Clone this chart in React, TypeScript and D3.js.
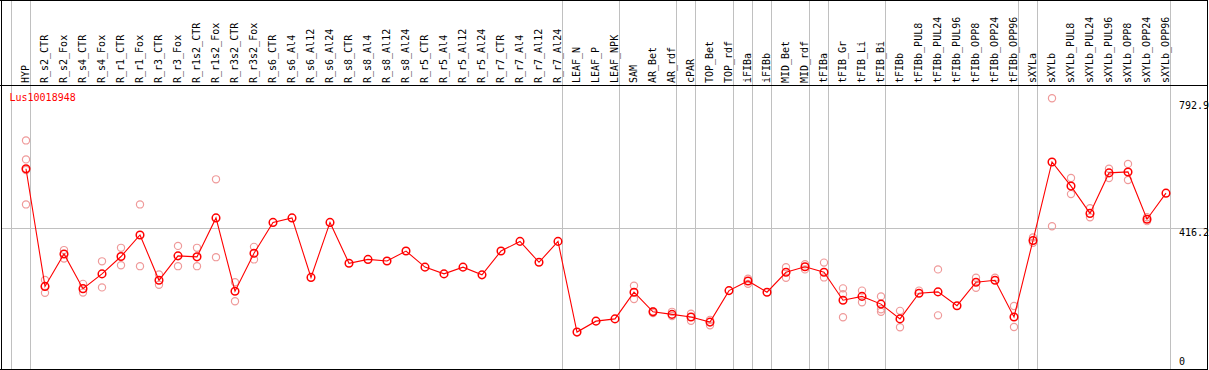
import React from "react";
import * as d3 from "d3";

const title = "Lus10018948";

const samples = [
  "HYP", "R_s2_CTR", "R_s2_Fox", "R_s4_CTR", "R_s4_Fox", "R_r1_CTR", "R_r1_Fox", "R_r3_CTR", "R_r3_Fox",
  "R_r1s2_CTR", "R_r1s2_Fox", "R_r3s2_CTR", "R_r3s2_Fox", "R_s6_CTR", "R_s6_Al4", "R_s6_Al12", "R_s6_Al24",
  "R_s8_CTR", "R_s8_Al4", "R_s8_Al12", "R_s8_Al24", "R_r5_CTR", "R_r5_Al4", "R_r5_Al12", "R_r5_Al24",
  "R_r7_CTR", "R_r7_Al4", "R_r7_Al12", "R_r7_Al24", "LEAF_N", "LEAF_P", "LEAF_NPK", "SAM", "AR_Bet", "AR_rdf",
  "cPAR", "TOP_Bet", "TOP_rdf", "iFIBa", "iFIBb", "MID_Bet", "MID_rdf", "tFIBa", "tFIB_Gr", "tFIB_Li", "tFIB_Bi",
  "tFIBb", "tFIBb_PUL8", "tFIBb_PUL24", "tFIBb_PUL96", "tFIBb_OPP8", "tFIBb_OPP24", "tFIBb_OPP96", "sXYLa",
  "sXYLb", "sXYLb_PUL8", "sXYLb_PUL24", "sXYLb_PUL96", "sXYLb_OPP8", "sXYLb_OPP24", "sXYLb_OPP96",
];

const means = [
  601, 235, 336, 228, 274, 328, 395, 254, 330, 327, 448, 220, 338, 434, 448, 263, 434,
  307, 319, 314, 345, 295, 274, 295, 271, 345, 375, 310, 375, 93, 127, 134, 217, 156, 148,
  140, 124, 222, 252, 217, 279, 296, 279, 192, 204, 180, 134, 214, 218, 175, 248, 254, 140,
  378, 622, 547, 462, 588, 591, 444, 525,
];

const replicates: number[][] = [
  [689, 630, 597, 490], [255, 236, 215], [348, 322], [243, 216], [313, 232], [355, 301], [490, 298],
  [272, 240], [361, 298], [355, 298], [568, 326], [248, 189], [358, 319], [], [], [], [],
  [], [], [], [], [], [], [], [], [], [], [], [], [], [], [], [237, 196], [158, 152], [156, 143],
  [150, 128], [131, 114], [], [259, 243], [], [295, 262], [304, 288], [309, 263], [229, 211, 139],
  [222, 186], [204, 164, 156], [159, 108], [222], [288, 145], [], [262, 231], [262], [174, 109],
  [387, 371], [820, 422], [572, 522], [478, 450], [601, 572], [616, 566], [450, 438], [],
];

// index of the last sample in each group (-1 = left edge)
const groupEnds = [-1, 0, 28, 31, 34, 35, 37, 38, 39, 41, 42, 45, 52, 53, 60];

const yTicks = [0, 416.2, 792.9];
const yTickLabels = ["0", "416.2", "792.9"];

const W = 1209;
const H = 370;
const FONT = "'DejaVu Sans Mono', monospace";

export default function App() {
  const x = d3.scaleLinear().domain([0, samples.length - 1]).range([26, 1166]);
  const y = d3.scaleLinear().domain([0, 792.9]).range([362, 107]);
  const line = d3
    .line<number>()
    .x((_, i) => x(i))
    .y((d) => y(d));

  const left = 1.5, right = 1207.5, top = 0.5, bottom = 369.5, header = 85.5;
  const labelDy = [-1, 4, -2];

  return (
    <svg
      width={W}
      height={H}
      style={{ position: "absolute", left: 0, top: 0, background: "#fff" }}
      fontFamily={FONT}
      fontSize={10}
    >
      <rect x={0} y={0} width={W} height={H} fill="#fff" />
      {groupEnds.map((g) => (
        <line
          key={"g" + g}
          x1={Math.round(x(g)) + 4.5}
          x2={Math.round(x(g)) + 4.5}
          y1={0}
          y2={H}
          stroke="#c0c0c0"
          strokeWidth={1}
          shapeRendering="crispEdges"
        />
      ))}
      <line
        x1={left}
        x2={right}
        y1={Math.round(y(yTicks[1])) + 0.5}
        y2={Math.round(y(yTicks[1])) + 0.5}
        stroke="#c0c0c0"
        shapeRendering="crispEdges"
      />
      {samples.map((s, i) => (
        <text
          key={s}
          transform={`translate(${x(i) + 3},83) rotate(-90)`}
          fill="#000"
          textAnchor="start"
        >
          {s}
        </text>
      ))}
      <text x={9.5} y={100.5} fill="#ff0000">
        {title}
      </text>
      {replicates.map((reps, i) =>
        reps.map((v, j) => (
          <circle
            key={`r${i}_${j}`}
            cx={x(i)}
            cy={y(v)}
            r={3.6}
            fill="none"
            stroke="#ef9a9a"
            strokeWidth={1.2}
          />
        ))
      )}
      <path d={line(means) || ""} fill="none" stroke="#ff0000" strokeWidth={1.1} />
      {means.map((v, i) => (
        <circle
          key={"m" + i}
          cx={x(i)}
          cy={y(v)}
          r={3.8}
          fill="none"
          stroke="#ff0000"
          strokeWidth={1.5}
        />
      ))}
      {yTicks.map((t, i) => (
        <text key={"t" + i} x={1179} y={y(t) + labelDy[i]} dominantBaseline="central" fill="#000">
          {yTickLabels[i]}
        </text>
      ))}
      <g stroke="#000" strokeWidth={1} shapeRendering="crispEdges">
        <line x1={left} x2={left} y1={0} y2={H} />
        <line x1={right} x2={right} y1={0} y2={H} />
        <line x1={0} x2={right} y1={top} y2={top} />
        <line x1={0} x2={right} y1={header} y2={header} />
        <line x1={0} x2={right} y1={bottom} y2={bottom} />
      </g>
    </svg>
  );
}
